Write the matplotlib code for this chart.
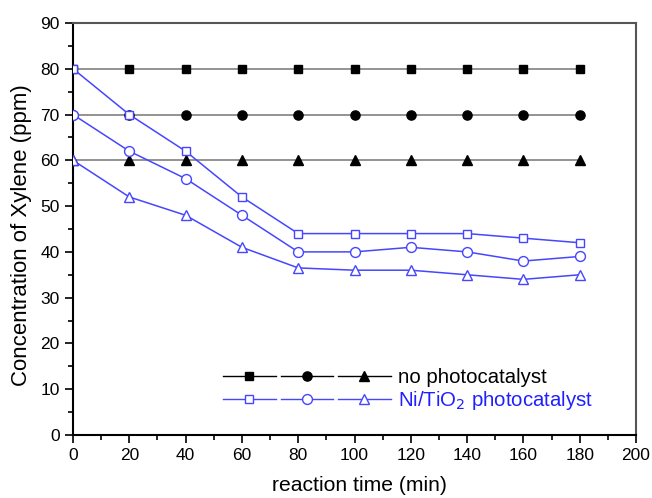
import matplotlib
matplotlib.use("Agg")
import matplotlib.pyplot as plt
from matplotlib.legend_handler import HandlerTuple
from matplotlib.ticker import MultipleLocator

plt.rcParams['font.family'] = ['Liberation Sans', 'DejaVu Sans']

time = [0, 20, 40, 60, 80, 100, 120, 140, 160, 180]
none_sq = [80] * 10
none_ci = [70] * 10
none_tr = [60] * 10
ni_sq = [80, 70, 62, 52, 44, 44, 44, 44, 43, 42]
ni_ci = [70, 62, 56, 48, 40, 40, 41, 40, 38, 39]
ni_tr = [60, 52, 48, 41, 36.5, 36, 36, 35, 34, 35]

fig = plt.figure(figsize=(6.52, 4.98), dpi=100)
ax = fig.add_axes([73/652, 1-435/498, (636-73)/652, (435-23)/498])

blue = '#4646ff'
gray = '#808080'
sizes = {'s': 5.7, 'o': 6.6, '^': 7.0}
hb = []
for y, m in zip([none_sq, none_ci, none_tr], ['s', 'o', '^']):
    ax.plot(time, y, color=gray, lw=1.2, marker=m, ms=sizes[m], mfc='black', mec='black', zorder=2)
    hb.append(ax.plot([], [], color='black', lw=1, marker=m, ms=sizes[m], mfc='black', mec='black')[0])
hn = []
for y, m in zip([ni_sq, ni_ci, ni_tr], ['s', 'o', '^']):
    ax.plot(time, y, color=blue, lw=1.1, marker=m, ms=sizes[m] + 0.5, mfc='white', mec=blue, mew=1.0, zorder=3)
    hn.append(ax.plot([], [], color=blue, lw=1, marker=m, ms=sizes[m] + 0.5, mfc='white', mec=blue, mew=1.0)[0])

ax.set_xlim(0, 200)
ax.set_ylim(0, 90)
ax.xaxis.set_major_locator(MultipleLocator(20))
ax.xaxis.set_minor_locator(MultipleLocator(10))
ax.yaxis.set_major_locator(MultipleLocator(10))
ax.yaxis.set_minor_locator(MultipleLocator(5))
ax.tick_params(which='both', direction='out', top=False, right=False, labelsize=12.5, width=1.2)
ax.tick_params(which='major', length=6)
ax.tick_params(which='minor', length=3.5)
for s in ax.spines.values():
    s.set_linewidth(1.5)
ax.spines['right'].set_color('#555555')
ax.spines['top'].set_color('#555555')

ax.set_xlabel('reaction time (min)', fontsize=15.2, labelpad=9)
ax.set_ylabel('Concentration of Xylene (ppm)', fontsize=16, labelpad=6)
ax.xaxis.label.set_x(0.508)
ax.yaxis.label.set_y(0.485)

leg = ax.legend([tuple(hb), tuple(hn)], ['no photocatalyst', 'Ni/TiO$_2$ photocatalyst'],
                handler_map={tuple: HandlerTuple(ndivide=3, pad=0.25)},
                handlelength=8.2, frameon=False, fontsize=14.7,
                loc='upper left', bbox_to_anchor=(0.2522, 0.183), labelspacing=0.1,
                handletextpad=0.35, borderaxespad=0)
leg.get_texts()[1].set_color('#2020ff')

fig.savefig('out.png', dpi=100)
